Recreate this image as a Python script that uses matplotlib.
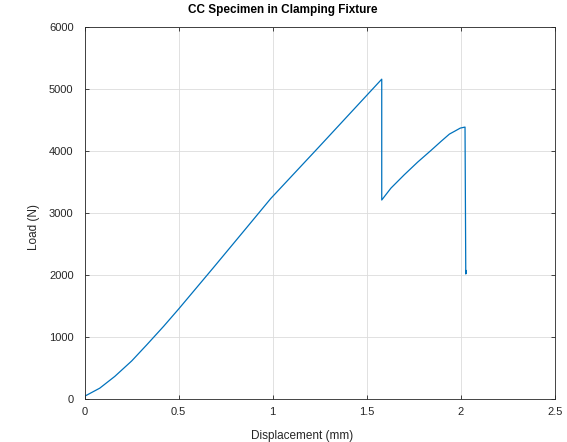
import matplotlib
matplotlib.use("Agg")
import matplotlib.pyplot as plt

# Data
displacement_mm = [0.0, 0.08, 0.16, 0.25, 0.33, 0.42, 0.5, 0.684, 0.861, 0.99,
                   1.25, 1.58, 1.58, 1.629, 1.70, 1.771, 1.842, 1.895, 1.94,
                   1.966, 1.998, 2.023, 2.027, 2.029, 2.030]
load_N = [40, 170, 360, 610, 870, 1170, 1450, 2115, 2762, 3235,
          4080, 5162, 3210, 3402, 3618, 3822, 4011, 4156, 4275,
          4318, 4372, 4388, 2015, 2030, 2070]

x_ticks = [0, 0.5, 1, 1.5, 2, 2.5]
x_tick_labels = ["0", "0.5", "1", "1.5", "2", "2.5"]
y_ticks = [0, 1000, 2000, 3000, 4000, 5000, 6000]
y_tick_labels = ["0", "1000", "2000", "3000", "4000", "5000", "6000"]

plt.rcParams['font.family'] = ['Liberation Sans', 'DejaVu Sans']

fig = plt.figure(figsize=(5.67, 4.42), dpi=100)
ax = fig.add_axes([84.7 / 567, (442 - 398.7) / 442, 470 / 567, 371.4 / 442])

ax.plot(displacement_mm, load_N, color='#0072BD', linewidth=0.9)

ax.set_xlim(0, 2.5)
ax.set_ylim(0, 6000)
ax.set_xticks(x_ticks)
ax.set_xticklabels(x_tick_labels)
ax.set_yticks(y_ticks)
ax.set_yticklabels(y_tick_labels)

tick_col = '#262626'
ax.tick_params(direction='in', length=3, width=0.6, colors=tick_col,
               labelsize=8, top=True, right=True)
ax.tick_params(axis='x', pad=6)
ax.tick_params(axis='y', pad=8)
for s in ax.spines.values():
    s.set_color('#262626')
    s.set_linewidth(0.6)

ax.grid(True, color='#dcdcdc', linewidth=0.6)
ax.set_axisbelow(True)

ax.set_xlabel('Displacement (mm)', fontsize=8.5, color=tick_col, labelpad=8.5)
ax.xaxis.set_label_coords(0.462, -0.083)
ax.set_ylabel('Load (N)', fontsize=8.5, color=tick_col)
ax.yaxis.set_label_coords(-0.096, 0.462)
ax.set_title('CC Specimen in Clamping Fixture', fontsize=8.5,
             fontweight='bold', color='#000000', x=0.422, pad=10)

fig.savefig('out.png', dpi=100)
